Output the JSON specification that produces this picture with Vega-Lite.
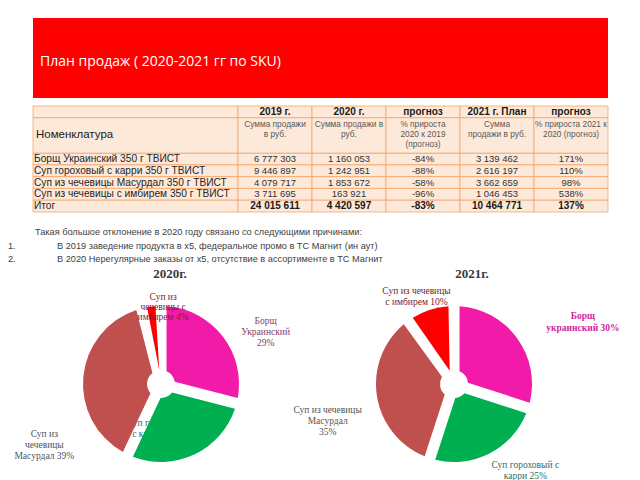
{
  "$schema": "https://vega.github.io/schema/vega-lite/v6.json",
  "width": 640,
  "height": 480,
  "autosize": "none",
  "padding": 0,
  "background": "white",
  "config": {
    "view": {"stroke": null},
    "axis": {"disable": true},
    "legend": {"disable": true}
  },
  "datasets": {
    "banner": [{"t": "План продаж ( 2020-2021 гг по SKU)"}],
    "cells": [
      {"row": "h1", "col": "name", "text": ""},
      {"row": "h2", "col": "name", "text": "Номенклатура"},
      {"row": "r1", "col": "name", "text": "Борщ Украинский 350 г ТВИСТ"},
      {"row": "r2", "col": "name", "text": "Суп гороховый с карри 350 г ТВИСТ"},
      {"row": "r3", "col": "name", "text": "Суп из чечевицы Масурдал 350 г ТВИСТ"},
      {"row": "r4", "col": "name", "text": "Суп из чечевицы с имбирем 350 г ТВИСТ"},
      {"row": "r5", "col": "name", "text": "Итог"},
      {"row": "h1", "col": "c2019", "text": "2019 г."},
      {"row": "h1", "col": "c2020", "text": "2020 г."},
      {"row": "h1", "col": "g2020", "text": "прогноз"},
      {"row": "h1", "col": "c2021", "text": "2021 г. План"},
      {"row": "h1", "col": "g2021", "text": "прогноз"},
      {"row": "h2", "col": "c2019", "text": "Сумма продажи\nв руб."},
      {"row": "h2", "col": "c2020", "text": "Сумма продажи в\nруб."},
      {"row": "h2", "col": "g2020", "text": "% прироста\n2020 к 2019\n(прогноз)"},
      {"row": "h2", "col": "c2021", "text": "Сумма\nпродажи в руб."},
      {"row": "h2", "col": "g2021", "text": "% прироста  2021 к\n2020 (прогноз)"},
      {"row": "r1", "col": "c2019", "text": "6 777 303"},
      {"row": "r1", "col": "c2020", "text": "1 160 053"},
      {"row": "r1", "col": "g2020", "text": "-84%"},
      {"row": "r1", "col": "c2021", "text": "3 139 462"},
      {"row": "r1", "col": "g2021", "text": "171%"},
      {"row": "r2", "col": "c2019", "text": "9 446 897"},
      {"row": "r2", "col": "c2020", "text": "1 242 951"},
      {"row": "r2", "col": "g2020", "text": "-88%"},
      {"row": "r2", "col": "c2021", "text": "2 616 197"},
      {"row": "r2", "col": "g2021", "text": "110%"},
      {"row": "r3", "col": "c2019", "text": "4 079 717"},
      {"row": "r3", "col": "c2020", "text": "1 853 672"},
      {"row": "r3", "col": "g2020", "text": "-58%"},
      {"row": "r3", "col": "c2021", "text": "3 662 659"},
      {"row": "r3", "col": "g2021", "text": "98%"},
      {"row": "r4", "col": "c2019", "text": "3 711 695"},
      {"row": "r4", "col": "c2020", "text": "163 921"},
      {"row": "r4", "col": "g2020", "text": "-96%"},
      {"row": "r4", "col": "c2021", "text": "1 046 453"},
      {"row": "r4", "col": "g2021", "text": "538%"},
      {"row": "r5", "col": "c2019", "text": "24 015 611"},
      {"row": "r5", "col": "c2020", "text": "4 420 597"},
      {"row": "r5", "col": "g2020", "text": "-83%"},
      {"row": "r5", "col": "c2021", "text": "10 464 771"},
      {"row": "r5", "col": "g2021", "text": "137%"}
    ],
    "notes": [
      {"line": "0", "part": "intro", "marker": "", "text": "Такая большое отклонение в 2020 году связано со следующими причинами:"},
      {"line": "1", "part": "item", "marker": "1.", "text": "В 2019 заведение продукта в x5, федеральное промо в ТС Магнит (ин аут)"},
      {"line": "2", "part": "item", "marker": "2.", "text": "В 2020 Нерегулярные заказы от x5, отсутствие в ассортименте в ТС Магнит"}
    ],
    "pie": [
      {"year": "2020", "k": 1, "name": "Борщ украинский", "pct": 29, "label": "Борщ\nУкраинский\n29%"},
      {"year": "2020", "k": 2, "name": "Суп гороховый с карри", "pct": 28, "label": "Суп гороховый\nс карри 28%"},
      {"year": "2020", "k": 3, "name": "Суп из чечевицы Масурдал", "pct": 39, "label": "Суп из\nчечевицы\nМасурдал 39%"},
      {"year": "2020", "k": 4, "name": "Суп из чечевицы с имбирем", "pct": 4, "label": "Суп из\nчечевицы с\nимбирем 4%"},
      {"year": "2021", "k": 1, "name": "Борщ украинский", "pct": 30, "label": "Борщ\nукраинский 30%"},
      {"year": "2021", "k": 2, "name": "Суп гороховый с карри", "pct": 25, "label": "Суп гороховый с\nкарри 25%"},
      {"year": "2021", "k": 3, "name": "Суп из чечевицы Масурдал", "pct": 35, "label": "Суп из чечевицы\nМасурдал\n35%"},
      {"year": "2021", "k": 4, "name": "Суп из чечевицы с имбирем", "pct": 10, "label": "Суп из чечевицы\nс имбирем 10%"}
    ],
    "titles": [
      {"year": "2020", "title": "2020г."},
      {"year": "2021", "title": "2021г."}
    ]
  },
  "resolve": {"scale": {"x": "independent", "y": "independent", "theta": "independent", "color": "independent"}},
  "layer": [
    {
      "data": {"name": "banner"},
      "mark": {"type": "rect", "color": "#ff0000"},
      "encoding": {
        "x": {"field": "t", "type": "nominal", "scale": {"type": "band", "range": [33, 608], "paddingInner": 0, "paddingOuter": 0}},
        "y": {"field": "t", "type": "nominal", "scale": {"type": "band", "range": [18, 98], "paddingInner": 0, "paddingOuter": 0}}
      }
    },
    {
      "data": {"name": "banner"},
      "mark": {"type": "text", "align": "left", "baseline": "middle", "dx": 7, "dy": 4, "font": "Open Sans", "fontSize": 14, "color": "#ffffff"},
      "encoding": {
        "x": {"field": "t", "type": "nominal", "bandPosition": 0, "scale": {"type": "band", "range": [33, 608], "paddingInner": 0, "paddingOuter": 0}},
        "y": {"field": "t", "type": "nominal", "scale": {"type": "band", "range": [18, 98], "paddingInner": 0, "paddingOuter": 0}},
        "text": {"field": "t", "type": "nominal"}
      }
    },
    {
      "data": {"name": "cells"},
      "transform": [{"filter": "datum.row != 'h2' && datum.col == 'name'"}],
      "mark": {"type": "rect", "fill": "#fde9d9", "stroke": "#f4a46a", "strokeWidth": 0.8},
      "encoding": {
        "x": {"field": "col", "type": "nominal", "scale": {"type": "band", "domain": ["name"], "range": [33, 238], "paddingInner": 0, "paddingOuter": 0}},
        "y": {"field": "row", "type": "nominal", "scale": {"type": "band", "domain": ["h1", "h2a", "h2", "h2c", "r1", "r2", "r3", "r4", "r5"], "range": [106, 212], "paddingInner": 0, "paddingOuter": 0}}
      }
    },
    {
      "data": {"name": "cells"},
      "transform": [{"filter": "datum.row != 'h2' && datum.col != 'name'"}],
      "mark": {"type": "rect", "fill": "#fde9d9", "stroke": "#f4a46a", "strokeWidth": 0.8},
      "encoding": {
        "x": {"field": "col", "type": "nominal", "scale": {"type": "band", "domain": ["c2019", "c2020", "g2020", "c2021", "g2021"], "range": [238, 608], "paddingInner": 0, "paddingOuter": 0}},
        "y": {"field": "row", "type": "nominal", "scale": {"type": "band", "domain": ["h1", "h2a", "h2", "h2c", "r1", "r2", "r3", "r4", "r5"], "range": [106, 212], "paddingInner": 0, "paddingOuter": 0}}
      }
    },
    {
      "data": {"name": "cells"},
      "transform": [{"filter": "datum.row == 'h2' && datum.col == 'name'"}],
      "mark": {"type": "rect", "fill": "#fde9d9", "stroke": "#f4a46a", "strokeWidth": 0.8, "height": {"band": 3}},
      "encoding": {
        "x": {"field": "col", "type": "nominal", "scale": {"type": "band", "domain": ["name"], "range": [33, 238], "paddingInner": 0, "paddingOuter": 0}},
        "y": {"field": "row", "type": "nominal", "scale": {"type": "band", "domain": ["h1", "h2a", "h2", "h2c", "r1", "r2", "r3", "r4", "r5"], "range": [106, 212], "paddingInner": 0, "paddingOuter": 0}}
      }
    },
    {
      "data": {"name": "cells"},
      "transform": [{"filter": "datum.row == 'h2' && datum.col != 'name'"}],
      "mark": {"type": "rect", "fill": "#fde9d9", "stroke": "#f4a46a", "strokeWidth": 0.8, "height": {"band": 3}},
      "encoding": {
        "x": {"field": "col", "type": "nominal", "scale": {"type": "band", "domain": ["c2019", "c2020", "g2020", "c2021", "g2021"], "range": [238, 608], "paddingInner": 0, "paddingOuter": 0}},
        "y": {"field": "row", "type": "nominal", "scale": {"type": "band", "domain": ["h1", "h2a", "h2", "h2c", "r1", "r2", "r3", "r4", "r5"], "range": [106, 212], "paddingInner": 0, "paddingOuter": 0}}
      }
    },
    {
      "data": {"name": "cells"},
      "transform": [{"filter": "datum.col == 'name' && datum.row != 'h1' && datum.row != 'h2'"}],
      "mark": {"type": "text", "align": "left", "baseline": "middle", "dx": 1, "font": "Liberation Sans", "fontSize": 10.2, "color": "#262626"},
      "encoding": {
        "x": {"field": "col", "type": "nominal", "bandPosition": 0, "scale": {"type": "band", "domain": ["name"], "range": [33, 238], "paddingInner": 0, "paddingOuter": 0}},
        "y": {"field": "row", "type": "nominal", "scale": {"type": "band", "domain": ["h1", "h2a", "h2", "h2c", "r1", "r2", "r3", "r4", "r5"], "range": [106, 212], "paddingInner": 0, "paddingOuter": 0}},
        "text": {"field": "text", "type": "nominal"}
      }
    },
    {
      "data": {"name": "cells"},
      "transform": [{"filter": "datum.col == 'name' && datum.row == 'h2'"}],
      "mark": {"type": "text", "align": "left", "baseline": "middle", "dx": 3, "font": "Liberation Sans", "fontSize": 11.5, "color": "#1a1a1a"},
      "encoding": {
        "x": {"field": "col", "type": "nominal", "bandPosition": 0, "scale": {"type": "band", "domain": ["name"], "range": [33, 238], "paddingInner": 0, "paddingOuter": 0}},
        "y": {"field": "row", "type": "nominal", "scale": {"type": "band", "domain": ["h1", "h2a", "h2", "h2c", "r1", "r2", "r3", "r4", "r5"], "range": [106, 212], "paddingInner": 0, "paddingOuter": 0}},
        "text": {"field": "text", "type": "nominal"}
      }
    },
    {
      "data": {"name": "cells"},
      "transform": [{"filter": "datum.col != 'name' && (datum.row == 'h1' || datum.row == 'r5')"}],
      "mark": {"type": "text", "align": "center", "baseline": "middle", "font": "Liberation Sans", "fontSize": 10, "fontWeight": "bold", "color": "#1a1a1a"},
      "encoding": {
        "x": {"field": "col", "type": "nominal", "scale": {"type": "band", "domain": ["c2019", "c2020", "g2020", "c2021", "g2021"], "range": [238, 608], "paddingInner": 0, "paddingOuter": 0}},
        "y": {"field": "row", "type": "nominal", "scale": {"type": "band", "domain": ["h1", "h2a", "h2", "h2c", "r1", "r2", "r3", "r4", "r5"], "range": [106, 212], "paddingInner": 0, "paddingOuter": 0}},
        "text": {"field": "text", "type": "nominal"}
      }
    },
    {
      "data": {"name": "cells"},
      "transform": [{"filter": "datum.col != 'name' && datum.row == 'h2'"}],
      "mark": {"type": "text", "align": "center", "baseline": "top", "dy": -10, "lineBreak": "\n", "lineHeight": 10, "font": "Liberation Sans", "fontSize": 8.3, "color": "#595959"},
      "encoding": {
        "x": {"field": "col", "type": "nominal", "scale": {"type": "band", "domain": ["c2019", "c2020", "g2020", "c2021", "g2021"], "range": [238, 608], "paddingInner": 0, "paddingOuter": 0}},
        "y": {"field": "row", "type": "nominal", "bandPosition": 0, "scale": {"type": "band", "domain": ["h1", "h2a", "h2", "h2c", "r1", "r2", "r3", "r4", "r5"], "range": [106, 212], "paddingInner": 0, "paddingOuter": 0}},
        "text": {"field": "text", "type": "nominal"}
      }
    },
    {
      "data": {"name": "cells"},
      "transform": [{"filter": "datum.col != 'name' && datum.row != 'h1' && datum.row != 'h2' && datum.row != 'r5'"}],
      "mark": {"type": "text", "align": "center", "baseline": "middle", "font": "Liberation Sans", "fontSize": 9.5, "color": "#333333"},
      "encoding": {
        "x": {"field": "col", "type": "nominal", "scale": {"type": "band", "domain": ["c2019", "c2020", "g2020", "c2021", "g2021"], "range": [238, 608], "paddingInner": 0, "paddingOuter": 0}},
        "y": {"field": "row", "type": "nominal", "scale": {"type": "band", "domain": ["h1", "h2a", "h2", "h2c", "r1", "r2", "r3", "r4", "r5"], "range": [106, 212], "paddingInner": 0, "paddingOuter": 0}},
        "text": {"field": "text", "type": "nominal"}
      }
    },
    {
      "data": {"name": "notes"},
      "mark": {"type": "text", "align": "left", "baseline": "middle", "font": "Liberation Sans", "fontSize": 9.2, "color": "#404040"},
      "encoding": {
        "x": {"field": "part", "type": "nominal", "scale": {"type": "point", "domain": ["intro", "item"], "range": [35, 57], "padding": 0}},
        "y": {"field": "line", "type": "nominal", "scale": {"type": "point", "domain": ["0", "1", "2"], "range": [232, 259], "padding": 0}},
        "text": {"field": "text", "type": "nominal"}
      }
    },
    {
      "data": {"name": "notes"},
      "transform": [{"filter": "datum.marker != ''"}],
      "mark": {"type": "text", "align": "left", "baseline": "middle", "font": "Liberation Sans", "fontSize": 9.2, "color": "#404040"},
      "encoding": {
        "x": {"field": "marker", "type": "nominal", "scale": {"type": "point", "domain": ["1.", "2."], "range": [8, 8], "padding": 0}},
        "y": {"field": "line", "type": "nominal", "scale": {"type": "point", "domain": ["0", "1", "2"], "range": [232, 259], "padding": 0}},
        "text": {"field": "marker", "type": "nominal"}
      }
    },
    {
      "data": {"name": "pie"},
      "transform": [
        {"filter": "datum.year == '2020'"},
        {"stack": "pct", "groupby": ["year"], "sort": [{"field": "k", "order": "ascending"}], "as": ["a0", "a1"]},
        {"fold": ["a0", "a1"], "as": ["edge", "ang"]},
        {"filter": "datum.k == 2"}
      ],
      "mark": {"type": "text", "radius": 39, "thetaOffset": 0.54, "align": "center", "baseline": "middle", "lineBreak": "\n", "lineHeight": 11, "font": "Liberation Serif", "fontSize": 9.5, "color": "#2a6a7a"},
      "encoding": {
        "x": {"field": "year", "type": "nominal", "scale": {"type": "point", "domain": ["2020", "2021"], "range": [161, 454], "padding": 0}},
        "y": {"field": "year", "type": "nominal", "scale": {"type": "point", "domain": ["2020", "2021"], "range": [384, 384], "padding": 0}},
        "theta": {"field": "ang", "type": "quantitative", "aggregate": "mean", "stack": null, "scale": {"domain": [0, 100]}},
        "text": {"field": "label", "type": "nominal"}
      }
    },
    {
      "data": {"name": "pie"},
      "transform": [{"filter": "datum.year == '2020'"}],
      "mark": {"type": "arc", "outerRadius": 78, "innerRadius": 14, "padAngle": 0.14},
      "encoding": {
        "x": {"field": "year", "type": "nominal", "scale": {"type": "point", "domain": ["2020", "2021"], "range": [161, 454], "padding": 0}},
        "y": {"field": "year", "type": "nominal", "scale": {"type": "point", "domain": ["2020", "2021"], "range": [384, 384], "padding": 0}},
        "theta": {"field": "pct", "type": "quantitative", "stack": true, "scale": {"domain": [0, 100]}},
        "order": {"field": "k", "sort": "ascending"},
        "color": {"field": "name", "type": "nominal", "scale": {"domain": ["Борщ украинский", "Суп гороховый с карри", "Суп из чечевицы Масурдал", "Суп из чечевицы с имбирем"], "range": ["#f21aa8", "#00b050", "#c0504d", "#ff0000"]}}
      }
    },
    {
      "data": {"name": "pie"},
      "transform": [{"filter": "datum.year == '2021'"}],
      "mark": {"type": "arc", "outerRadius": 78, "innerRadius": 14, "padAngle": 0.14},
      "encoding": {
        "x": {"field": "year", "type": "nominal", "scale": {"type": "point", "domain": ["2020", "2021"], "range": [161, 454], "padding": 0}},
        "y": {"field": "year", "type": "nominal", "scale": {"type": "point", "domain": ["2020", "2021"], "range": [384, 384], "padding": 0}},
        "theta": {"field": "pct", "type": "quantitative", "stack": true, "scale": {"domain": [0, 100]}},
        "order": {"field": "k", "sort": "ascending"},
        "color": {"field": "name", "type": "nominal", "scale": {"domain": ["Борщ украинский", "Суп гороховый с карри", "Суп из чечевицы Масурдал", "Суп из чечевицы с имбирем"], "range": ["#f21aa8", "#00b050", "#c0504d", "#ff0000"]}}
      }
    },
    {
      "data": {"name": "pie"},
      "transform": [
        {"filter": "datum.year == '2020'"},
        {"stack": "pct", "groupby": ["year"], "sort": [{"field": "k", "order": "ascending"}], "as": ["a0", "a1"]},
        {"fold": ["a0", "a1"], "as": ["edge", "ang"]}
      ],
      "encoding": {
        "x": {"field": "year", "type": "nominal", "scale": {"type": "point", "domain": ["2020", "2021"], "range": [161, 454], "padding": 0}},
        "y": {"field": "year", "type": "nominal", "scale": {"type": "point", "domain": ["2020", "2021"], "range": [384, 384], "padding": 0}},
        "theta": {"field": "ang", "type": "quantitative", "aggregate": "mean", "stack": null, "scale": {"domain": [0, 100]}},
        "text": {"field": "label", "type": "nominal"}
      },
      "layer": [
        {
          "transform": [{"filter": "datum.k == 1"}],
          "mark": {"type": "text", "radius": 122, "thetaOffset": 0.12, "align": "center", "baseline": "middle", "lineBreak": "\n", "lineHeight": 11, "font": "Liberation Serif", "fontSize": 9.5, "color": "#80406a"}
        },
        {
          "transform": [{"filter": "datum.k == 3"}],
          "mark": {"type": "text", "radius": 127, "thetaOffset": -0.5, "align": "center", "baseline": "middle", "lineBreak": "\n", "lineHeight": 11, "font": "Liberation Serif", "fontSize": 9.5, "color": "#4a5566"}
        },
        {
          "transform": [{"filter": "datum.k == 4"}],
          "mark": {"type": "text", "radius": 87, "thetaOffset": 0.15, "align": "center", "baseline": "middle", "lineBreak": "\n", "lineHeight": 10, "font": "Liberation Serif", "fontSize": 9.5, "color": "#8a1a2a"}
        }
      ]
    },
    {
      "data": {"name": "pie"},
      "transform": [
        {"filter": "datum.year == '2021'"},
        {"stack": "pct", "groupby": ["year"], "sort": [{"field": "k", "order": "ascending"}], "as": ["a0", "a1"]},
        {"fold": ["a0", "a1"], "as": ["edge", "ang"]}
      ],
      "encoding": {
        "x": {"field": "year", "type": "nominal", "scale": {"type": "point", "domain": ["2020", "2021"], "range": [161, 454], "padding": 0}},
        "y": {"field": "year", "type": "nominal", "scale": {"type": "point", "domain": ["2020", "2021"], "range": [384, 384], "padding": 0}},
        "theta": {"field": "ang", "type": "quantitative", "aggregate": "mean", "stack": null, "scale": {"domain": [0, 100]}},
        "text": {"field": "label", "type": "nominal"}
      },
      "layer": [
        {
          "transform": [{"filter": "datum.k == 1"}],
          "mark": {"type": "text", "radius": 146, "thetaOffset": 0.14, "align": "center", "baseline": "middle", "lineBreak": "\n", "lineHeight": 12, "font": "Liberation Serif", "fontSize": 9.5, "fontWeight": "bold", "color": "#d21fa0"}
        },
        {
          "transform": [{"filter": "datum.k == 2"}],
          "mark": {"type": "text", "radius": 108, "thetaOffset": -0.25, "align": "center", "baseline": "middle", "lineBreak": "\n", "lineHeight": 11, "font": "Liberation Serif", "fontSize": 9.5, "color": "#2e6e5e"}
        },
        {
          "transform": [{"filter": "datum.k == 3"}],
          "mark": {"type": "text", "radius": 129, "thetaOffset": -0.047, "align": "center", "baseline": "middle", "lineBreak": "\n", "lineHeight": 11, "font": "Liberation Serif", "fontSize": 9.5, "color": "#555555"}
        },
        {
          "transform": [{"filter": "datum.k == 4"}],
          "mark": {"type": "text", "radius": 100, "thetaOffset": -0.07, "align": "center", "baseline": "middle", "lineBreak": "\n", "lineHeight": 11, "font": "Liberation Serif", "fontSize": 9.5, "color": "#7a1a2a"}
        }
      ]
    },
    {
      "data": {"name": "titles"},
      "mark": {"type": "text", "align": "center", "baseline": "middle", "font": "Liberation Serif", "fontSize": 13, "fontWeight": "bold", "color": "#3a3a3a"},
      "encoding": {
        "x": {"field": "year", "type": "nominal", "scale": {"type": "point", "domain": ["2020", "2021"], "range": [170, 472], "padding": 0}},
        "y": {"field": "year", "type": "nominal", "scale": {"type": "point", "domain": ["2020", "2021"], "range": [274, 274], "padding": 0}},
        "text": {"field": "title", "type": "nominal"}
      }
    }
  ]
}
